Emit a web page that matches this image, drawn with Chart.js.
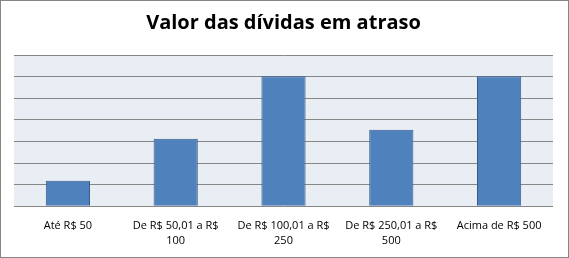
<!DOCTYPE html>
<html><head><meta charset="utf-8">
<script src="https://cdn.jsdelivr.net/npm/chart.js@4/dist/chart.umd.min.js"></script>
<style>
html,body{margin:0;padding:0;background:#fff;}
#wrap{position:absolute;left:0;top:0;width:569px;height:258px;box-sizing:border-box;border:1px solid #868686;}
canvas{display:block;}
</style></head><body>
<div id="wrap"><canvas id="c" width="567" height="256"></canvas></div>
<script>
const title = "Valor das dívidas em atraso";
const categories = [["Até R$ 50"], ["De R$ 50,01 a R$", "100"], ["De R$ 100,01 a R$", "250"], ["De R$ 250,01 a R$", "500"], ["Acima de R$ 500"]];
const values = [5.9, 15.6, 30.1, 17.7, 30.1];
const yMax = 35;
const yStep = 5;

const plotBg = {
  id: 'plotBg',
  beforeDraw(chart) {
    const {ctx, chartArea: a} = chart;
    ctx.save();
    ctx.fillStyle = '#E9EDF4';
    ctx.fillRect(a.left, a.top, a.right - a.left, a.bottom - a.top);
    ctx.restore();
  }
};

new Chart(document.getElementById('c'), {
  type: 'bar',
  data: {
    labels: categories,
    datasets: [{
      data: values,
      backgroundColor: '#4F81BD',
      borderColor: '#385D8A',
      borderWidth: 1,
      borderSkipped: 'bottom',
      categoryPercentage: 1,
      barPercentage: 0.41
    }]
  },
  options: {
    responsive: false,
    animation: false,
    devicePixelRatio: 1,
    layout: {padding: {left: 13, right: 15, top: 0, bottom: 4}},
    plugins: {
      legend: {display: false},
      tooltip: {enabled: false},
      title: {
        display: true,
        text: title,
        color: '#000',
        font: {family: 'Open Sans', size: 20, weight: 'bold'},
        padding: {top: 10, bottom: 20}
      }
    },
    scales: {
      x: {
        grid: {display: false},
        border: {display: false},
        ticks: {
          color: '#000',
          font: {family: 'Open Sans', size: 11, lineHeight: 1.4},
          maxRotation: 0,
          autoSkip: false,
          padding: 4
        }
      },
      y: {
        min: 0,
        max: yMax,
        ticks: {display: false, stepSize: yStep},
        border: {display: false},
        grid: {color: '#868686', lineWidth: 1, drawTicks: false}
      }
    }
  },
  plugins: [plotBg]
});
</script>
</body></html>
